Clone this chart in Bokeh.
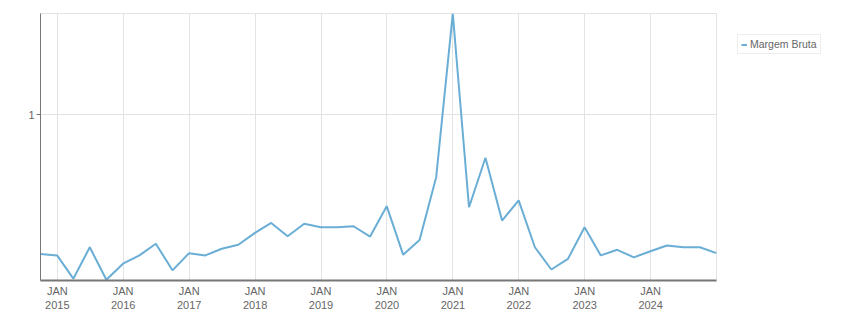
from datetime import datetime
from bokeh.plotting import figure
from bokeh.models import (Range1d, FixedTicker, DatetimeTickFormatter, Legend, LegendItem,
                          ColumnDataSource, BasicTickFormatter)
from bokeh.embed import file_html
from bokeh.resources import INLINE

quarters = [
    "2014-09-30", "2014-12-31",
    "2015-03-31", "2015-06-30", "2015-09-30", "2015-12-31",
    "2016-03-31", "2016-06-30", "2016-09-30", "2016-12-31",
    "2017-03-31", "2017-06-30", "2017-09-30", "2017-12-31",
    "2018-03-31", "2018-06-30", "2018-09-30", "2018-12-31",
    "2019-03-31", "2019-06-30", "2019-09-30", "2019-12-31",
    "2020-03-31", "2020-06-30", "2020-09-30", "2020-12-31",
    "2021-03-31", "2021-06-30", "2021-09-30", "2021-12-31",
    "2022-03-31", "2022-06-30", "2022-09-30", "2022-12-31",
    "2023-03-31", "2023-06-30", "2023-09-30", "2023-12-31",
    "2024-03-31", "2024-06-30", "2024-09-30", "2024-12-31",
]
margem_bruta = [
    0.364, 0.360,
    0.304, 0.382, 0.3015, 0.339,
    0.360, 0.392, 0.323, 0.366,
    0.360, 0.378, 0.389, 0.424,
    0.456, 0.414, 0.453, 0.442,
    0.442, 0.445, 0.413, 0.515,
    0.362, 0.403, 0.636, 2.088,
    0.511, 0.732, 0.464, 0.537,
    0.382, 0.325, 0.351, 0.442,
    0.360, 0.375, 0.355, 0.371,
    0.387, 0.382, 0.382, 0.366,
]
tick_years = [2015, 2016, 2017, 2018, 2019, 2020, 2021, 2022, 2023, 2024]
y_ticks = [1]
series_name = "Margem Bruta"

dates = [datetime.strptime(q, "%Y-%m-%d") for q in quarters]
src = ColumnDataSource(dict(x=dates, y=margem_bruta))

FONT = "Liberation Sans"
GRID = "#e3e3e3"
AXIS = "#777777"
TXT = "#666666"

p = figure(frame_width=676, frame_height=267, output_backend="svg", toolbar_location=None,
           x_axis_type="datetime", y_axis_type="log",
           x_range=Range1d(dates[0], dates[-1]),
           y_range=Range1d(0.30, 2.09),
           min_border_left=40, min_border_right=135, min_border_top=13, min_border_bottom=33)
p.background_fill_color = "white"
p.border_fill_color = "white"
p.outline_line_color = GRID
p.outline_line_width = 1

line = p.line("x", "y", source=src, line_color="#6aaed6", line_width=2)

xa = p.xaxis[0]
xa.ticker = FixedTicker(ticks=[datetime(y, 1, 1).timestamp() * 1000 for y in tick_years])
fmt = "JAN\n%Y"
xa.formatter = DatetimeTickFormatter(years=fmt, months=fmt, days=fmt, hours=fmt,
                                     hourmin=fmt, minutes=fmt, minsec=fmt, seconds=fmt,
                                     milliseconds=fmt, microseconds=fmt)
xa.axis_line_color = AXIS
xa.axis_line_width = 2
xa.major_tick_line_color = None
xa.major_tick_out = 0
xa.major_tick_in = 0
xa.minor_tick_line_color = None
xa.major_label_standoff = 4
xa.major_label_text_font = FONT
xa.major_label_text_font_size = "11px"
xa.major_label_text_color = TXT

ya = p.yaxis[0]
ya.ticker = FixedTicker(ticks=y_ticks)
ya.formatter = BasicTickFormatter()
ya.axis_line_color = AXIS
ya.axis_line_width = 1
ya.major_tick_line_color = AXIS
ya.major_tick_out = 4
ya.major_tick_in = 0
ya.minor_tick_line_color = None
ya.major_label_standoff = 2
ya.major_label_text_font = FONT
ya.major_label_text_font_size = "11px"
ya.major_label_text_color = TXT

p.xgrid.grid_line_color = GRID
p.ygrid.grid_line_color = GRID
p.xgrid.ticker = xa.ticker
p.ygrid.ticker = ya.ticker

legend = Legend(items=[LegendItem(label=series_name, renderers=[line])],
                location="top_left")
legend.border_line_color = "#dddddd"
legend.border_line_width = 1
legend.background_fill_color = "white"
legend.background_fill_alpha = 1
legend.padding = 3
legend.margin = 21
legend.spacing = 0
legend.glyph_width = 6
legend.glyph_height = 9
legend.label_height = 9
legend.label_standoff = 3
legend.label_text_font = FONT
legend.label_text_font_size = "10.5px"
legend.label_text_color = TXT
p.add_layout(legend, "right")

open("out.html", "w").write(file_html(p, INLINE))
